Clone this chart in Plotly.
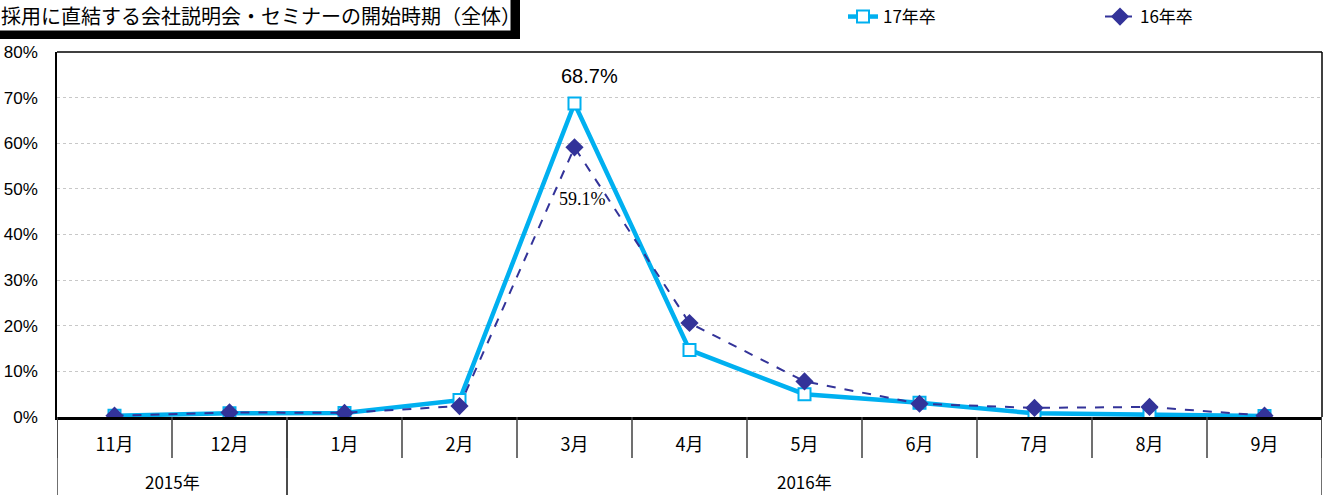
import plotly.graph_objects as go

# data
months = ["11月", "12月", "1月", "2月", "3月", "4月", "5月", "6月", "7月", "8月", "9月"]
years = ["2015年", "2016年"]
year_spans = [2, 9]  # number of months under each year
grad17 = [0.003, 0.008, 0.009, 0.037, 0.687, 0.147, 0.050, 0.031, 0.008, 0.005, 0.002]
grad16 = [0.003, 0.010, 0.009, 0.024, 0.591, 0.206, 0.078, 0.029, 0.020, 0.022, 0.003]

W, H = 1325, 495
L, R, T, B = 57, 3, 52, 78
PW, PH = W - L - R, H - T - B

JP = "Noto Sans CJK JP"
BLUE = "#00B0F0"
NAVY = "#333399"


def px_x(px):
    return (px - L) / PW


def px_y(py):
    return (H - B - py) / PH


fig = go.Figure()

fig.add_trace(
    go.Scatter(
        x=months,
        y=grad17,
        mode="lines+markers",
        name="17年卒",
        line=dict(color=BLUE, width=4.5),
        marker=dict(symbol="square", size=12, color="white", line=dict(color=BLUE, width=2)),
    )
)
fig.add_trace(
    go.Scatter(
        x=months,
        y=grad16,
        mode="lines+markers",
        name="16年卒",
        line=dict(color=NAVY, width=2, dash="dash"),
        marker=dict(symbol="diamond", size=14, color=NAVY),
    )
)

# value labels on the peak
peak = grad17.index(max(grad17))
fig.add_annotation(
    x=months[peak], y=grad17[peak], text=f"{grad17[peak] * 100:.1f}%", showarrow=False,
    yshift=28, xshift=15, font=dict(family="Liberation Sans", size=20, color="black"),
)
fig.add_annotation(
    x=months[peak], y=grad16[peak], text=f"{grad16[peak] * 100:.1f}%", showarrow=False,
    yshift=-52, xshift=8, font=dict(family="Liberation Serif", size=18, color="black"),
)

# category dividers under the axis
shapes = []
for i in range(len(months) + 1):
    shapes.append(dict(
        type="line", xref="x", yref="paper", x0=i - 0.5, x1=i - 0.5,
        y0=0, y1=-41 / PH, line=dict(color="#404040", width=1.5),
    ))
# year group dividers and labels
start = 0
for yr, span in zip(years, year_spans):
    for edge in (start, start + span):
        shapes.append(dict(
            type="line", xref="x", yref="paper", x0=edge - 0.5, x1=edge - 0.5,
            y0=0, y1=-B / PH, line=dict(color="#404040", width=1.5),
        ))
    fig.add_annotation(
        x=start + (span - 1) / 2, y=px_y(481), xref="x", yref="paper", text=yr,
        showarrow=False, yanchor="middle", borderpad=0,
        font=dict(family=JP, size=17, color="black"),
    )
    start += span

# plot border (top and right)
shapes.append(dict(type="line", xref="paper", yref="paper", x0=0, x1=1, y0=1, y1=1,
                   line=dict(color="black", width=1.5)))
shapes.append(dict(type="line", xref="paper", yref="paper", x0=1, x1=1, y0=1, y1=0,
                   line=dict(color="black", width=1.5)))

# title box with dark shadow
shapes.append(dict(type="rect", xref="paper", yref="paper",
                   x0=px_x(-10), x1=px_x(520), y0=px_y(39), y1=px_y(-10),
                   fillcolor="black", line=dict(width=0)))
shapes.append(dict(type="rect", xref="paper", yref="paper",
                   x0=px_x(-10), x1=px_x(511), y0=px_y(31), y1=px_y(-10),
                   fillcolor="white", line=dict(color="black", width=1)))
fig.add_annotation(
    x=px_x(-1), y=px_y(16), xref="paper", yref="paper", xanchor="left", yanchor="middle",
    text="採用に直結する会社説明会・セミナーの開始時期（全体）", showarrow=False,
    font=dict(family=JP, size=20, color="black"),
)

fig.update_layout(
    width=W,
    height=H,
    margin=dict(l=L, r=R, t=T, b=B, autoexpand=False),
    plot_bgcolor="white",
    paper_bgcolor="white",
    shapes=shapes,
    showlegend=True,
    legend=dict(
        orientation="h", x=px_x(843), y=px_y(17), xanchor="left", yanchor="middle",
        font=dict(family=JP, size=17, color="black"),
        entrywidth=212, entrywidthmode="pixels", bgcolor="rgba(0,0,0,0)",
    ),
    xaxis=dict(
        type="category", range=[-0.5, len(months) - 0.5],
        showgrid=False, showline=True, linecolor="black", linewidth=2.5,
        ticks="", ticklabelstandoff=10,
        tickfont=dict(family=JP, size=18, color="black"),
    ),
    yaxis=dict(
        range=[0, 0.8], dtick=0.1, tickformat=".0%",
        showgrid=True, gridcolor="#c8c8c8", griddash="dot", gridwidth=1,
        showline=True, linecolor="black", linewidth=1.5,
        zeroline=False, ticklabelstandoff=14,
        tickfont=dict(family="Liberation Sans", size=17, color="black"),
    ),
)

# drop the browser's default page margin so the figure sits at the top-left corner
fig.write_html(
    "out.html",
    config={"displayModeBar": False},
    post_script="document.body.style.margin = '0';",
)
